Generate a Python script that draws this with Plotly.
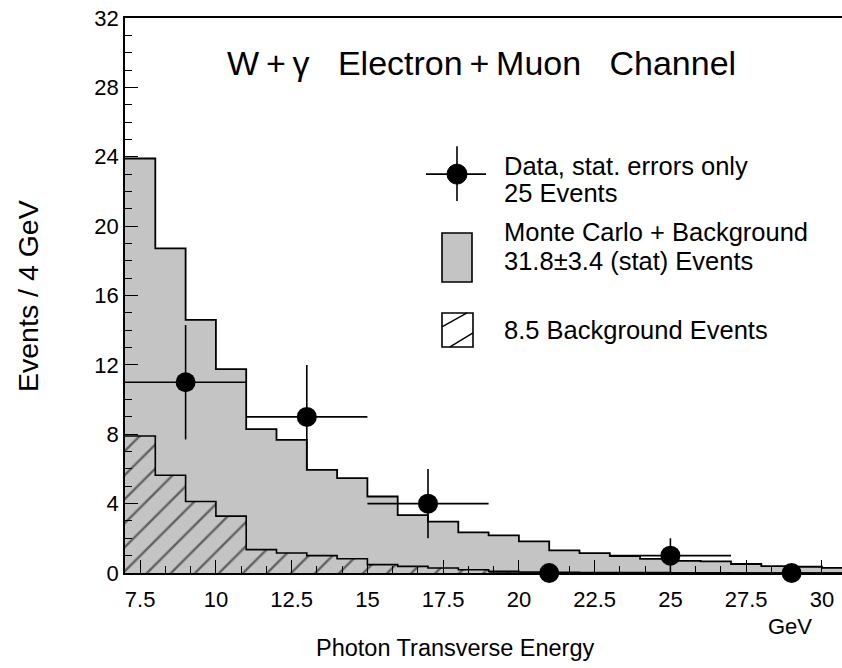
import plotly.graph_objects as go

# ---------------- data ----------------
mc_edges = list(range(7, 32))          # 1 GeV bins, 7 .. 31 GeV
mc_vals = [23.9, 18.72, 14.59, 11.75, 8.29, 7.68, 5.95, 5.47,
           4.41, 3.34, 2.96, 2.34, 2.17, 1.82, 1.30, 1.15,
           0.98, 0.82, 0.70, 0.67, 0.52, 0.40, 0.36, 0.30]
bkg_vals = [7.90, 5.64, 4.12, 3.28, 1.35, 1.15, 1.00, 0.82,
            0.48, 0.38, 0.29, 0.19, 0.10, 0.06, 0.04, 0.03,
            0.02, 0.02, 0.01, 0.01, 0.0, 0.0, 0.0, 0.0]
data_x = [9, 13, 17, 21, 25, 29]
data_y = [11, 9, 4, 0, 1, 0]
data_xerr = [2, 2, 2, 2, 2, 2]
data_yerr = [3.3, 3.0, 2.0, 0, 1.0, 0]
x_ticks = [7.5, 10, 12.5, 15, 17.5, 20, 22.5, 25, 27.5, 30]
x_ticktext = ["7.5", "10", "12.5", "15", "17.5", "20", "22.5", "25", "27.5", "30"]
y_ticks = [0, 4, 8, 12, 16, 20, 24, 28, 32]

title_text = "W\u2009+\u2009\u03b3\u00a0\u00a0\u00a0Electron\u2009+\u2009Muon\u00a0\u00a0\u00a0Channel"
leg_data = ["Data, stat. errors only", "25 Events"]
leg_mc = ["Monte Carlo + Background", "31.8\u00b13.4 (stat) Events"]
leg_bkg = ["8.5 Background Events"]

# ---------------- layout geometry ----------------
W, H = 842, 668
L, R, T, B = 125, 842, 17.7, 573.3
FONT = "Liberation Sans, Arial, Helvetica, sans-serif"
GREY = "#c4c4c4"
X_RANGE = [7, 7 + (R - L) / 30.3]
Y_RANGE = [0, 32]


def px(xp):
    return (xp - L) / (R - L)


def py(yp):
    return (B - yp) / (B - T)


fig = go.Figure()

# MC + background (stippled grey)
fig.add_trace(go.Scatter(
    x=mc_edges, y=mc_vals + [mc_vals[-1]], mode="lines",
    line=dict(shape="hv", color="black", width=1.8),
    fill="tozeroy", fillcolor=GREY,
    hoverinfo="skip", showlegend=False))

# background (hatched)
fig.add_trace(go.Scatter(
    x=mc_edges, y=bkg_vals + [bkg_vals[-1]], mode="lines",
    line=dict(shape="hv", color="black", width=1.6),
    fill="tozeroy", fillcolor="rgba(0,0,0,0)",
    fillpattern=dict(shape="/", fgcolor="black", bgcolor="rgba(0,0,0,0)",
                     size=17, solidity=0.14),
    hoverinfo="skip", showlegend=False))

# data
fig.add_trace(go.Scatter(
    x=data_x, y=data_y, mode="markers",
    marker=dict(symbol="circle", size=20, color="black"),
    error_x=dict(type="data", array=data_xerr, color="black", thickness=1.6, width=0),
    error_y=dict(type="data", array=data_yerr, color="black", thickness=1.6, width=0),
    cliponaxis=False, hoverinfo="skip", showlegend=False))

# empty trace on overlay axes (which only carry the inside ticks, drawn on top)
fig.add_trace(go.Scatter(x=[None], y=[None], xaxis="x2", yaxis="y2",
                         mode="markers", hoverinfo="skip", showlegend=False))

fig.update_layout(
    width=W, height=H,
    margin=dict(l=L, r=W - R, t=T, b=H - B, pad=0),
    paper_bgcolor="white", plot_bgcolor="white",
    font=dict(family=FONT, color="black"),
    showlegend=False,
)

tick_common = dict(ticks="inside", ticklen=13, tickwidth=1.3, tickcolor="black")

fig.update_layout(
    xaxis=dict(
        range=X_RANGE, showgrid=False, zeroline=False,
        showline=True, linecolor="black", linewidth=1.8, mirror=True,
        tickvals=x_ticks, ticktext=x_ticktext, layer="above traces",
        tickfont=dict(size=22, family=FONT), ticklabelstandoff=6,
        minor=dict(tick0=7.5, dtick=2.5 / 3, ticks="inside", ticklen=7,
                   tickwidth=1.3, tickcolor="black", showgrid=False),
        **tick_common),
    yaxis=dict(
        range=Y_RANGE, showgrid=False, zeroline=False,
        showline=True, linecolor="black", linewidth=1.8, mirror=False,
        tickvals=y_ticks, tickfont=dict(size=22, family=FONT), ticklabelstandoff=0,
        layer="above traces",
        minor=dict(tick0=0, dtick=1, ticks="inside", ticklen=7,
                   tickwidth=1.3, tickcolor="black", showgrid=False),
        **tick_common),
    xaxis2=dict(
        overlaying="x", anchor="y2", range=X_RANGE, showgrid=False, zeroline=False,
        showline=False, showticklabels=False, tickvals=x_ticks,
        minor=dict(tick0=7.5, dtick=2.5 / 3, ticks="inside", ticklen=7,
                   tickwidth=1.3, tickcolor="black", showgrid=False),
        **tick_common),
    yaxis2=dict(
        overlaying="y", anchor="x2", side="left", range=Y_RANGE, showgrid=False,
        zeroline=False, showline=False, showticklabels=False, tickvals=y_ticks,
        minor=dict(tick0=0, dtick=1, ticks="inside", ticklen=7,
                   tickwidth=1.3, tickcolor="black", showgrid=False),
        **tick_common),
)

ann = []
ann.append(dict(text=title_text, x=px(481), y=py(63), xref="paper", yref="paper",
                showarrow=False, xanchor="center", yanchor="middle",
                font=dict(size=34, family=FONT)))
ann.append(dict(text="Events / 4 GeV", x=px(28), y=py(296), xref="paper", yref="paper",
                showarrow=False, textangle=-90, xanchor="center", yanchor="middle",
                font=dict(size=28.5, family=FONT)))
ann.append(dict(text="Photon Transverse Energy", x=px(455), y=py(648), xref="paper",
                yref="paper", showarrow=False, xanchor="center", yanchor="middle",
                font=dict(size=23.5, family=FONT)))
ann.append(dict(text="GeV", x=px(790), y=py(627), xref="paper", yref="paper",
                showarrow=False, xanchor="center", yanchor="middle",
                font=dict(size=22, family=FONT)))

for txt, yy in zip(leg_data + leg_mc + leg_bkg, [166, 193, 232, 261, 330]):
    ann.append(dict(text=txt, x=px(502), y=py(yy), xref="paper", yref="paper",
                    showarrow=False, xanchor="left", yanchor="middle",
                    font=dict(size=25.5, family=FONT)))
fig.update_layout(annotations=ann)

shapes = []
# data legend symbol
shapes.append(dict(type="line", xref="paper", yref="paper", x0=px(426), x1=px(486),
                   y0=py(174), y1=py(174), line=dict(color="black", width=1.6)))
shapes.append(dict(type="line", xref="paper", yref="paper", x0=px(457), x1=px(457),
                   y0=py(146), y1=py(201), line=dict(color="black", width=1.6)))
shapes.append(dict(type="circle", xref="paper", yref="paper", x0=px(447), x1=px(467),
                   y0=py(184), y1=py(164), fillcolor="black", line=dict(color="black", width=1)))
# MC legend box
shapes.append(dict(type="rect", xref="paper", yref="paper", x0=px(442), x1=px(472),
                   y0=py(282), y1=py(233), fillcolor=GREY, line=dict(color="black", width=1.6)))
# background legend box
shapes.append(dict(type="rect", xref="paper", yref="paper", x0=px(442), x1=px(473),
                   y0=py(347), y1=py(313), fillcolor="white", line=dict(color="black", width=1.6)))
shapes.append(dict(type="line", xref="paper", yref="paper", x0=px(442), x1=px(467),
                   y0=py(327), y1=py(313), line=dict(color="black", width=1.4)))
shapes.append(dict(type="line", xref="paper", yref="paper", x0=px(450), x1=px(473),
                   y0=py(347), y1=py(333), line=dict(color="black", width=1.4)))
fig.update_layout(shapes=shapes)

fig.write_html("out.html")
